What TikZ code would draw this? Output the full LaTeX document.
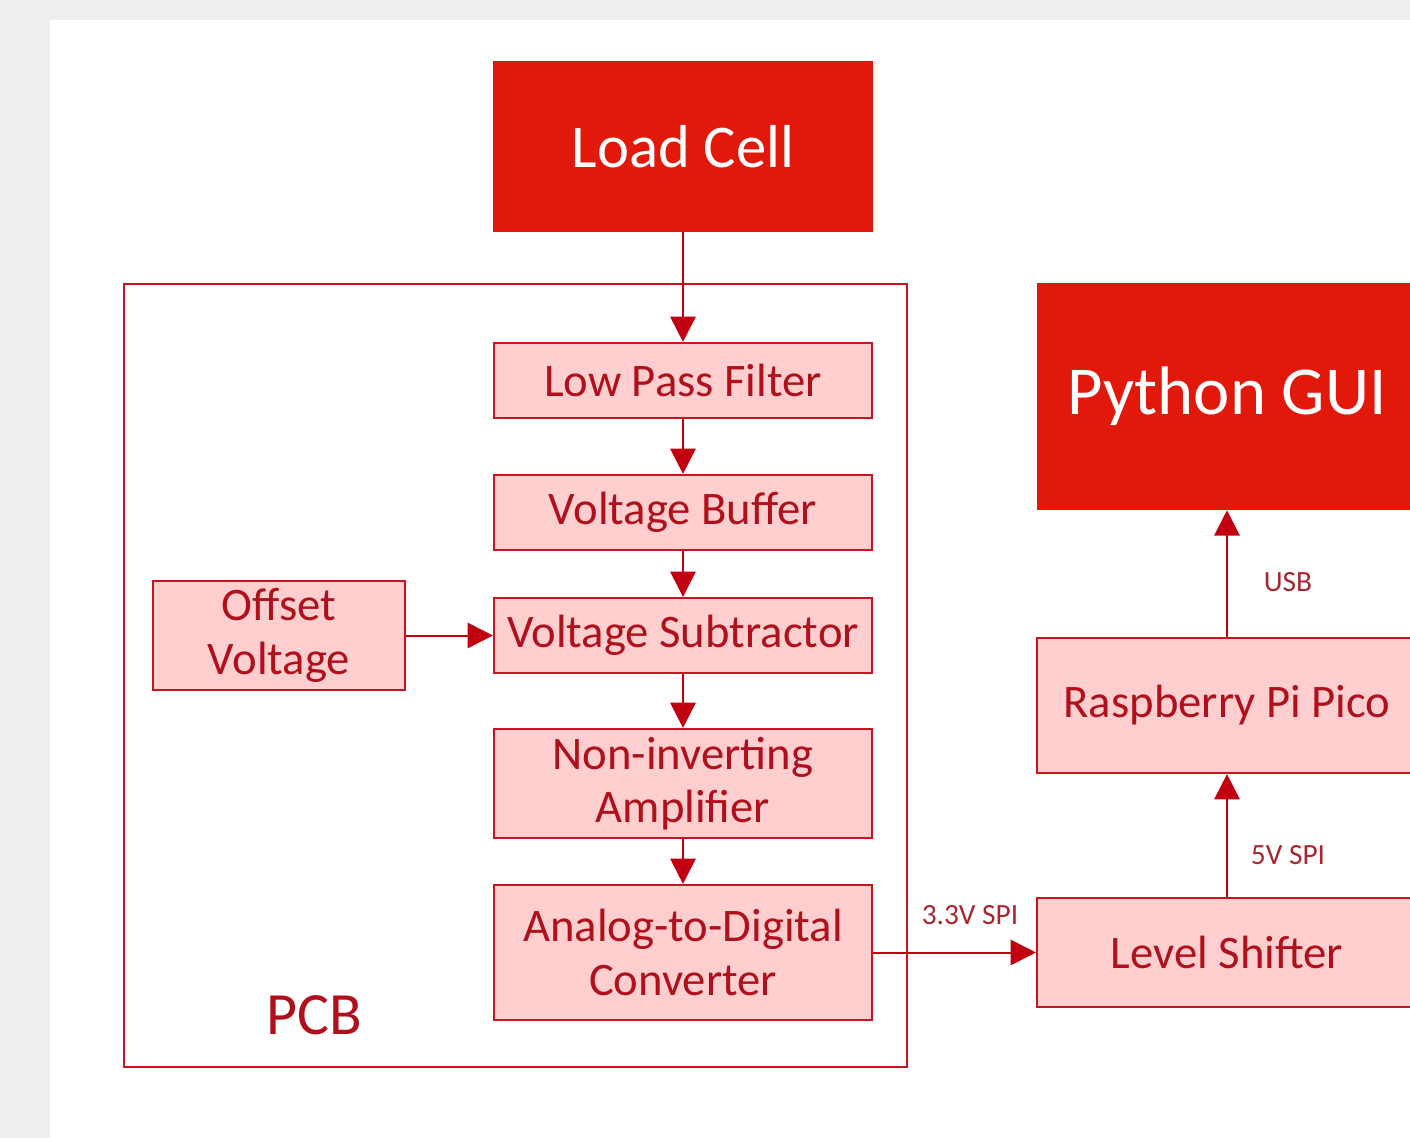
\documentclass[tikz,border=0pt]{standalone}
\usepackage{fontspec}
\setmainfont{Carlito}
\usetikzlibrary{arrows.meta,fit}
\definecolor{bggray}{HTML}{EEEEEE}
\definecolor{darkfill}{HTML}{E2190A}
\definecolor{pinkfill}{HTML}{FFCFCF}
\definecolor{boxline}{HTML}{C8141E}
\definecolor{boxtext}{HTML}{B0101C}
\definecolor{arrowcol}{HTML}{C00010}
\definecolor{labtext}{HTML}{A8262E}
\tikzset{
  darkbox/.style={draw=none, fill=darkfill, inner sep=0pt, text=white},
  pinkbox/.style={draw=boxline, line width=1.6pt, fill=pinkfill, inner sep=0pt},
  boxlabel/.style={text=boxtext, align=center, font=\fontsize{35}{41}\selectfont},
  frame/.style={draw=boxline, line width=1.5pt},
  conn/.style={draw=arrowcol, line width=1.5pt, -{Triangle[length=19pt,width=19pt]}},
  lab/.style={text=labtext, font=\fontsize{22}{25}\selectfont, inner sep=0pt}
}
\begin{document}
\begin{tikzpicture}[x=0.75pt,y=-0.75pt]
\useasboundingbox (0,0) rectangle (1410,1138);
\clip (0,0) rectangle (1410,1138);
\fill[bggray] (0,0) rectangle (1410,1138);
\fill[white] (50,20) rectangle (1420,1150);
% PCB frame
\draw[frame] (124,284) rectangle (907,1067);
\node[text=boxtext, font=\fontsize{45}{50}\selectfont, inner sep=0pt] (pcb) at (314,1015) {PCB};
% nodes
\node[darkbox, fit={(493,61) (873,232)}] (load) {};
\node[text=white, font=\fontsize{45.5}{50}\selectfont] (loadt) at (load.center) {Load Cell};
\node[pinkbox, fit={(494,343) (872,418)}] (lpf) {};
\node[boxlabel] (lpft) at (lpf.center) {Low Pass Filter};
\node[pinkbox, fit={(494,475) (872,550)}] (vb) {};
\node[boxlabel] (vbt) at (vb.center) {Voltage Buffer};
\node[pinkbox, fit={(494,598) (872,673)}] (vs) {};
\node[boxlabel] (vst) at (vs.center) {Voltage Subtractor};
\node[pinkbox, fit={(494,729) (872,838)}] (nia) {};
\node[boxlabel, font=\fontsize{35}{40}\selectfont] (niat) at (nia.center) {Non-inverting\\Amplifier};
\node[pinkbox, fit={(494,885) (872,1020)}] (adc) {};
\node[boxlabel] (adct) at (adc.center) {Analog-to-Digital\\Converter};
\node[pinkbox, fit={(153,581) (405,690)}] (off) {};
\node[boxlabel] (offt) at (off.center) {Offset\\Voltage};
\node[darkbox, fit={(1037,283) (1417,510)}] (gui) {};
\node[text=white, font=\fontsize{51.5}{56}\selectfont] (guit) at (gui.center) {Python GUI};
\node[pinkbox, fit={(1037,638) (1417,773)}] (pico) {};
\node[boxlabel] (picot) at (pico.center) {Raspberry Pi Pico};
\node[pinkbox, fit={(1037,898) (1417,1007)}] (ls) {};
\node[boxlabel] (lst) at (ls.center) {Level Shifter};
% connectors
\draw[conn] (load.south) -- (lpf.north);
\draw[conn] (lpf.south) -- (vb.north);
\draw[conn] (vb.south) -- (vs.north);
\draw[conn] (vs.south) -- (nia.north);
\draw[conn] (nia.south) -- (adc.north);
\draw[conn] (off.east) -- (vs.west);
\draw[conn] (adc.east) -- (ls.west);
\draw[conn] (ls.north) -- (pico.south);
\draw[conn] (pico.north) -- (gui.south);
% labels
\node[lab] (l33) at (970,915) {3.3V SPI};
\node[lab] (l5) at (1288,855) {5V SPI};
\node[lab] (lusb) at (1288,582) {USB};
\end{tikzpicture}
\end{document}
